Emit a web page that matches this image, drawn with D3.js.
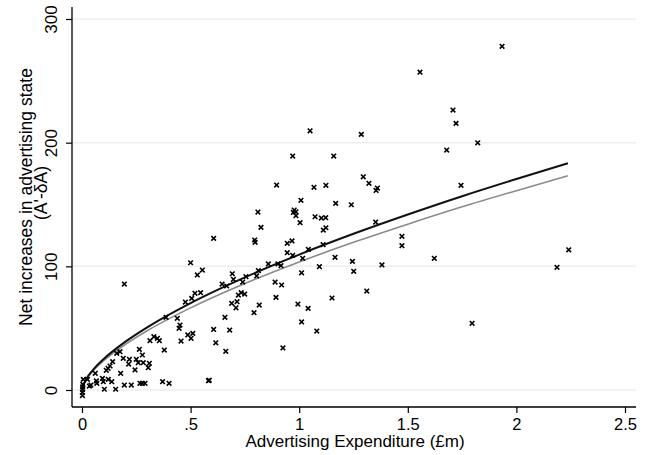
<!DOCTYPE html>
<html>
<head>
<meta charset="utf-8">
<script src="https://cdn.jsdelivr.net/npm/d3@7"></script>
<style>
  html, body { margin: 0; padding: 0; background: #ffffff; }
  svg { display: block; }
  text { font-family: "Liberation Sans", Arial, sans-serif; fill: #000; }
</style>
</head>
<body>
<svg id="chart" width="651" height="455"></svg>
<script>
// ---- data ----
const pointX = [0.002,0.002,0.003,0.003,0.004,0.006,0.025,0.034,0.041,0.061,0.068,0.066,0.094,0.098,0.103,0.112,0.121,0.120,0.129,0.137,
  0.141,0.155,0.160,0.175,0.178,0.190,0.195,0.218,0.215,0.227,0.244,0.250,0.259,0.264,0.267,0.278,0.282,0.278,0.290,0.305,
  0.310,0.313,0.331,0.347,0.356,0.371,0.379,0.401,0.195,0.500,0.531,0.554,0.476,0.505,0.520,0.546,0.387,0.439,0.451,0.447,
  0.456,0.487,0.510,0.502,0.582,0.970,0.896,1.068,1.008,0.810,0.977,0.985,0.973,0.985,1.073,0.824,1.004,0.606,0.795,0.797,
  0.945,0.967,0.945,0.970,1.042,1.016,0.858,0.902,0.916,1.093,0.812,0.804,0.755,0.692,0.697,0.645,0.666,0.740,1.011,0.889,
  0.919,0.720,0.733,0.749,0.689,0.714,0.709,0.893,0.816,0.792,0.994,1.041,0.658,0.606,0.680,1.011,1.081,0.616,0.662,0.925,
  0.586,1.050,1.286,1.679,1.159,1.295,1.321,1.360,1.354,1.123,1.168,1.240,1.102,1.122,1.352,1.111,1.123,1.473,1.473,1.110,
  1.165,1.245,1.251,1.381,1.622,1.311,1.151,1.934,1.708,1.722,1.822,1.745,2.241,2.187,1.796,1.556];
const pointY = [-4.5,-2.0,0.5,2.5,4.5,8.6,8.6,3.2,4.0,13.5,5.4,7.3,9.4,6.7,0.6,15.9,8.6,17.5,19.4,6.7,
  22.9,0.6,29.7,31.0,13.5,25.6,4.0,24.8,21.0,4.0,16.2,24.8,22.1,32.9,5.4,5.4,22.1,28.3,5.4,18.0,
  21.6,39.9,43.1,41.8,39.9,6.7,32.3,5.4,85.7,102.9,93.0,97.0,71.1,74.1,78.2,78.7,58.8,58.0,52.5,49.9,
  39.6,44.5,45.8,41.8,7.5,189.2,165.7,163.9,153.4,143.9,145.5,144.1,143.6,140.9,140.1,131.5,135.3,122.6,121.3,119.4,
  118.6,120.5,111.0,108.9,113.7,106.5,101.9,101.9,100.5,99.7,96.5,92.2,91.6,94.0,89.5,85.7,84.1,87.3,94.8,87.3,
  84.9,76.8,78.7,77.6,70.1,71.4,66.5,74.9,68.7,62.5,69.5,66.0,58.8,49.0,48.5,55.0,47.7,38.2,31.3,34.0,
  7.8,209.6,206.7,194.0,189.2,172.4,167.1,163.3,161.4,165.5,150.9,149.8,139.0,139.3,135.8,129.3,131.2,124.3,116.7,117.5,
  107.3,104.0,96.0,101.1,106.5,80.0,74.4,277.9,226.4,215.6,199.9,165.5,113.4,99.2,53.9,257.0];

// fitted curves
const curveX = [0.005,0.02,0.05,0.1,0.2,0.3,0.5,0.75,1.0,1.25,1.5,1.75,2.0,2.237];
const fitBlack = [3.7,9.0,16.1,25.1,39.1,50.7,70.3,91.1,109.5,126.3,141.9,156.7,170.6,183.3];
const fitGray  = [3.5,8.5,15.2,23.7,36.9,47.9,66.4,86.1,103.5,119.4,134.1,148.1,161.2,173.2];

const xTicks = [0, 0.5, 1, 1.5, 2, 2.5];
const xTickLabels = ["0", ".5", "1", "1.5", "2", "2.5"];
const yTicks = [0, 100, 200, 300];
const yTickLabels = ["0", "100", "200", "300"];

const xTitle = "Advertising Expenditure (£m)";
const yTitle1 = "Net increases in advertising state";
const yTitle2 = "(A'-δA)";

// ---- drawing ----
const svg = d3.select("#chart");
const x = d3.scaleLinear().domain([0, 2.5]).range([82, 625]);
const y = d3.scaleLinear().domain([0, 300]).range([390, 19]);
const axisLeftX = 72, axisRightX = 636, axisBottomY = 407, axisTopY = 7;

// gridlines
svg.append("g").selectAll("line").data(yTicks).join("line")
  .attr("x1", axisLeftX).attr("x2", axisRightX)
  .attr("y1", d => y(d)).attr("y2", d => y(d))
  .attr("stroke", "#e8f0f2").attr("stroke-width", 1.5);

// fitted lines
const line = d3.line().x(d => x(d[0])).y(d => y(d[1])).curve(d3.curveMonotoneX);
svg.append("path").datum(curveX.map((v, i) => [v, fitGray[i]]))
  .attr("d", line).attr("fill", "none").attr("stroke", "#8a8a8a").attr("stroke-width", 1.6);
svg.append("path").datum(curveX.map((v, i) => [v, fitBlack[i]]))
  .attr("d", line).attr("fill", "none").attr("stroke", "#111").attr("stroke-width", 2);

// scatter markers (x shape)
const m = 2.3;
svg.append("g").selectAll("path").data(pointX.map((v, i) => [v, pointY[i]])).join("path")
  .attr("transform", d => `translate(${x(d[0])},${y(d[1])})`)
  .attr("d", `M${-m},${-m}L${m},${m}M${-m},${m}L${m},${-m}`)
  .attr("stroke", "#000").attr("stroke-width", 1.6).attr("fill", "none");

// x axis
const gx = svg.append("g").attr("transform", `translate(0,${axisBottomY})`)
  .call(d3.axisBottom(x).tickValues(xTicks).tickFormat((d, i) => xTickLabels[i]).tickSize(6).tickSizeOuter(0));
gx.select(".domain").remove();
gx.selectAll(".tick line").attr("stroke", "#000").attr("stroke-width", 1.2);
gx.selectAll(".tick text").attr("font-size", 16.5).attr("font-family", "Liberation Sans, Arial, sans-serif").attr("dy", "0.71em").attr("y", 11);
svg.append("line").attr("x1", axisLeftX).attr("x2", axisRightX).attr("y1", axisBottomY).attr("y2", axisBottomY)
  .attr("stroke", "#000").attr("stroke-width", 1.3);

// y axis
const gy = svg.append("g").attr("transform", `translate(${axisLeftX},0)`)
  .call(d3.axisLeft(y).tickValues(yTicks).tickFormat((d, i) => yTickLabels[i]).tickSize(6).tickSizeOuter(0));
gy.select(".domain").remove();
gy.selectAll(".tick line").attr("stroke", "#000").attr("stroke-width", 1.2);
gy.selectAll(".tick text")
  .attr("font-size", 17).attr("font-family", "Liberation Sans, Arial, sans-serif")
  .attr("x", null).attr("dy", null)
  .attr("text-anchor", "middle")
  .attr("transform", "translate(-15,0) rotate(-90)");
svg.append("line").attr("x1", axisLeftX).attr("x2", axisLeftX).attr("y1", axisTopY).attr("y2", axisBottomY)
  .attr("stroke", "#000").attr("stroke-width", 1.3);

// titles
svg.append("text").attr("x", 355).attr("y", 447).attr("text-anchor", "middle")
  .attr("font-size", 17).text(xTitle);
svg.append("text").attr("transform", "translate(32,197) rotate(-90)").attr("text-anchor", "middle")
  .attr("font-size", 17.5).text(yTitle1);
svg.append("text").attr("transform", "translate(47,193) rotate(-90)").attr("text-anchor", "middle")
  .attr("font-size", 17.5).text(yTitle2);
</script>
</body>
</html>
